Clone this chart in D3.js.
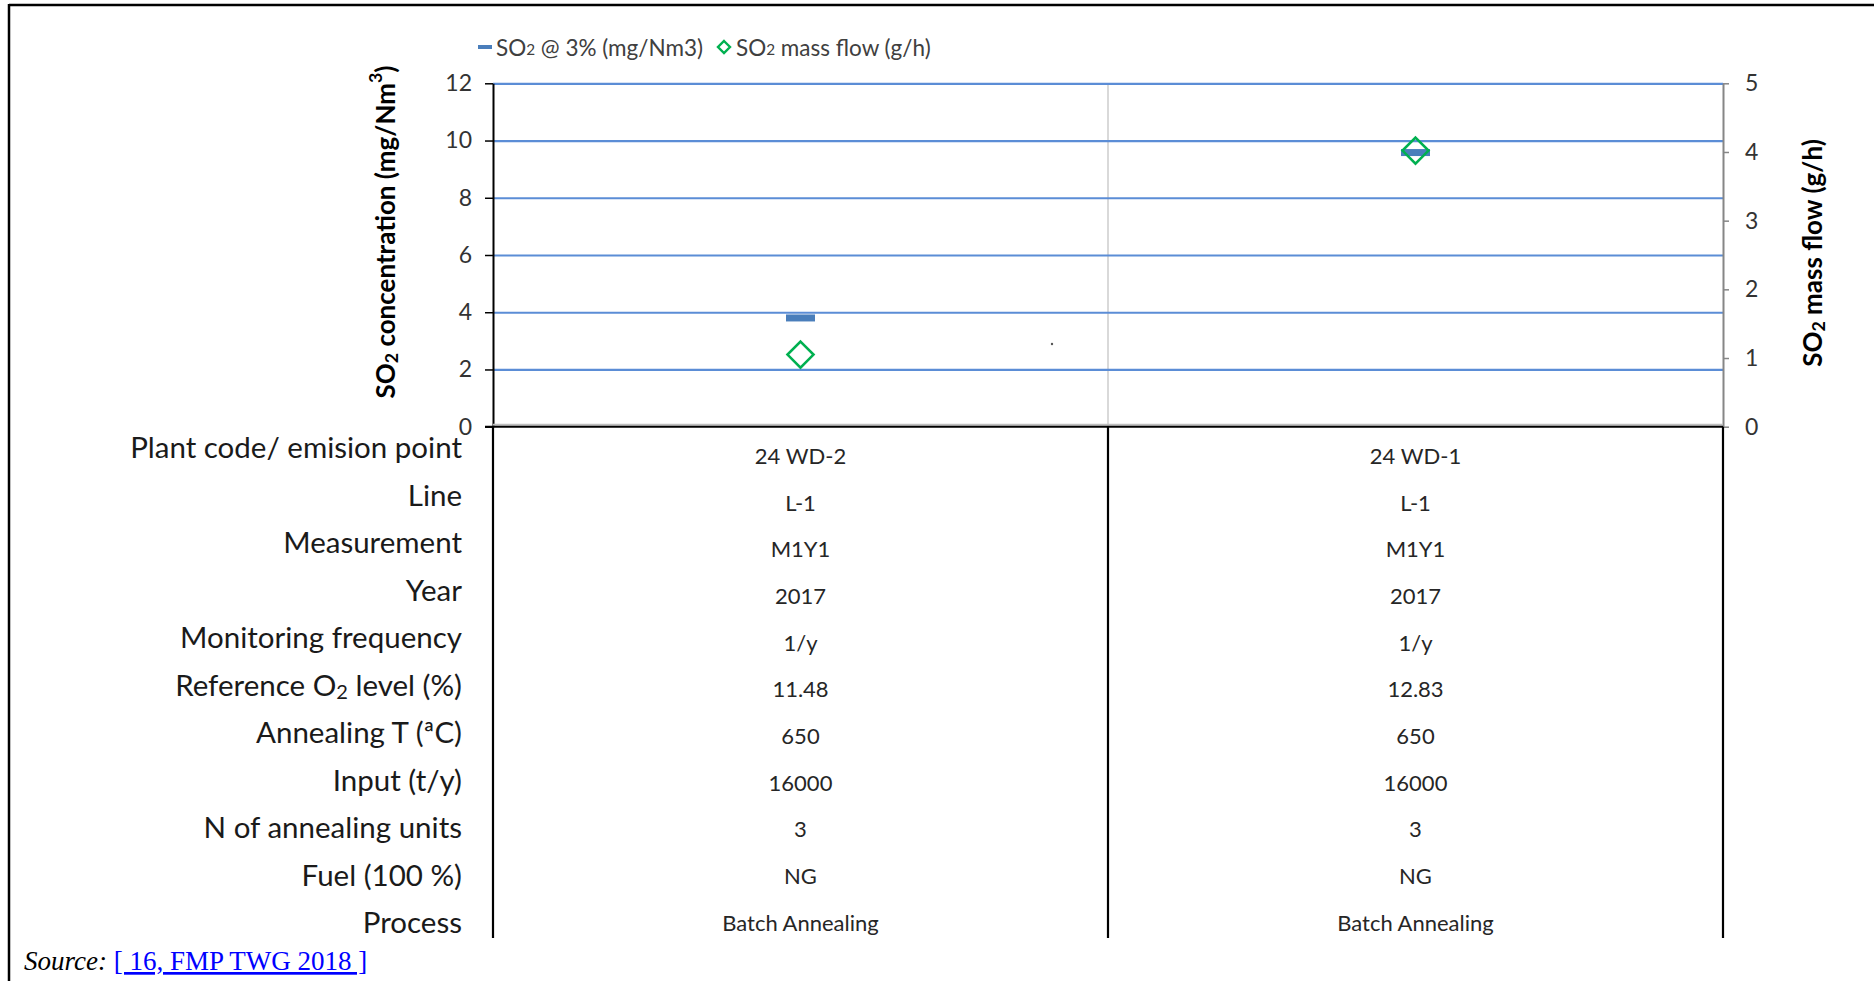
<!DOCTYPE html>
<html>
<head>
<meta charset="utf-8">
<script src="https://cdn.jsdelivr.net/npm/d3@7"></script>
<style>
  html, body { margin: 0; padding: 0; background: #fff; }
  svg { display: block; }
  text { font-family: Lato, "Open Sans", sans-serif; }
</style>
</head>
<body>
<svg id="chart" width="1874" height="981"></svg>
<script>
// ---------- DATA ----------
const categories = ["24 WD-2", "24 WD-1"];
const so2Concentration = [3.8, 9.58];   // mg/Nm3 (left axis)
const so2MassFlow = [1.05, 4.02];       // g/h (right axis)
const leftTicks = [0, 2, 4, 6, 8, 10, 12];
const rightTicks = [0, 1, 2, 3, 4, 5];
const rowLabels = [
  "Plant code/ emision point", "Line", "Measurement", "Year",
  "Monitoring frequency", "Reference O|2| level (%)", "Annealing T (ªC)",
  "Input (t/y)", "N of annealing units", "Fuel (100 %)", "Process"
];
const column1Values = ["24 WD-2", "L-1", "M1Y1", "2017", "1/y", "11.48", "650", "16000", "3", "NG", "Batch Annealing"];
const column2Values = ["24 WD-1", "L-1", "M1Y1", "2017", "1/y", "12.83", "650", "16000", "3", "NG", "Batch Annealing"];
const tableValues = [column1Values, column2Values];

// ---------- LAYOUT ----------
const svg = d3.select("#chart");
const plot = { left: 493, right: 1723, top: 83.3, bottom: 426.7 };
const tableBottom = 938;
const gridColor = "#5b8dd6";

const x = d3.scaleBand().domain(categories).range([plot.left, plot.right]).padding(0);
const yL = d3.scaleLinear().domain([0, 12]).range([plot.bottom, plot.top]);
const yR = d3.scaleLinear().domain([0, 5]).range([plot.bottom, plot.top]);
const rowLabelY = d3.scaleLinear().domain([0, rowLabels.length - 1]).range([446, 921]);
const rowValueY = d3.scaleLinear().domain([0, rowLabels.length - 1]).range([455.5, 922]);

// frame
svg.append("line").attr("x1", 9).attr("x2", 1874).attr("y1", 5).attr("y2", 5)
  .attr("stroke", "#000").attr("stroke-width", 2.5);
svg.append("line").attr("x1", 9).attr("x2", 9).attr("y1", 4).attr("y2", 981)
  .attr("stroke", "#000").attr("stroke-width", 2.5);

// middle separator (light gray) in plot area
svg.append("line")
  .attr("x1", x(categories[1])).attr("x2", x(categories[1]))
  .attr("y1", plot.top).attr("y2", plot.bottom)
  .attr("stroke", "#d9d9d9").attr("stroke-width", 2);

// gridlines
const grid = svg.append("g").attr("transform", `translate(${plot.left},0)`)
  .call(d3.axisLeft(yL).tickValues(leftTicks.filter(d => d > 0)).tickSize(-(plot.right - plot.left)).tickFormat(""));
grid.select(".domain").remove();
grid.selectAll(".tick line").attr("stroke", gridColor).attr("stroke-width", 2.2);

// left axis
const axL = svg.append("g").attr("transform", `translate(${plot.left},0)`)
  .call(d3.axisLeft(yL).tickValues(leftTicks).tickFormat(d3.format("d")).tickSize(8).tickSizeOuter(0).tickPadding(13));
axL.select(".domain").attr("stroke", "#000").attr("stroke-width", 2);
axL.selectAll(".tick line").attr("stroke", "#000").attr("stroke-width", 1.5);
axL.selectAll(".tick text").attr("font-size", 23).attr("fill", "#333")
  .attr("font-family", "Lato, sans-serif");

// right axis
const axR = svg.append("g").attr("transform", `translate(${plot.right},0)`)
  .call(d3.axisRight(yR).tickValues(rightTicks).tickFormat(d3.format("d")).tickSize(6).tickSizeOuter(0).tickPadding(16));
axR.select(".domain").attr("stroke", "#868686").attr("stroke-width", 2);
axR.selectAll(".tick line").attr("stroke", "#868686").attr("stroke-width", 1.5);
axR.selectAll(".tick text").attr("font-size", 23).attr("fill", "#333")
  .attr("font-family", "Lato, sans-serif");

// bottom axis line (zero line)
svg.append("line").attr("x1", plot.left).attr("x2", plot.right)
  .attr("y1", plot.bottom - 2).attr("y2", plot.bottom - 2)
  .attr("stroke", "#bfbfbf").attr("stroke-width", 2);
svg.append("line").attr("x1", plot.left - 8).attr("x2", plot.right)
  .attr("y1", plot.bottom).attr("y2", plot.bottom)
  .attr("stroke", "#000").attr("stroke-width", 2);

// table vertical lines
const tableXs = [plot.left, x(categories[1]), plot.right];
svg.selectAll(".tline").data(tableXs).enter().append("line")
  .attr("x1", d => d).attr("x2", d => d)
  .attr("y1", plot.bottom).attr("y2", tableBottom)
  .attr("stroke", "#000").attr("stroke-width", 2.2);

// text with sub/superscripts: |x| => subscript, ^x^ => superscript
function richText(sel, str, subShift, supShift) {
  const parts = str.split(/(\|[^|]*\||\^[^^]*\^)/).filter(s => s.length);
  let pending = 0;
  parts.forEach(p => {
    if (p.startsWith("|")) {
      sel.append("tspan").text(p.slice(1, -1)).attr("font-size", "0.68em").attr("dy", pending + subShift);
      pending = -subShift;
    } else if (p.startsWith("^")) {
      sel.append("tspan").text(p.slice(1, -1)).attr("font-size", "0.68em").attr("dy", pending - supShift);
      pending = supShift;
    } else {
      const t = sel.append("tspan").text(p);
      if (pending) t.attr("dy", pending);
      pending = 0;
    }
  });
}

// axis titles
const tL = svg.append("text")
  .attr("transform", `translate(385,232) rotate(-90)`)
  .attr("text-anchor", "middle").attr("dominant-baseline", "central")
  .attr("font-size", 26).attr("font-weight", "bold").attr("fill", "#000");
richText(tL, "SO|2| concentration (mg/Nm^3^)", 6, 10);

const tR = svg.append("text")
  .attr("transform", `translate(1812,253) rotate(-90)`)
  .attr("text-anchor", "middle").attr("dominant-baseline", "central")
  .attr("font-size", 26).attr("font-weight", "bold").attr("fill", "#000");
richText(tR, "SO|2| mass flow (g/h)", 6, 10);

// series: SO2 concentration (blue dash markers)
svg.selectAll(".dash").data(categories).enter().append("rect")
  .attr("x", d => x(d) + x.bandwidth() / 2 - 14.5)
  .attr("y", (d, i) => yL(so2Concentration[i]) - 3.5)
  .attr("width", 29).attr("height", 7)
  .attr("fill", "#4a7ebb");

// series: SO2 mass flow (green diamonds)
const dSize = 13;
svg.selectAll(".diamond").data(categories).enter().append("path")
  .attr("d", `M0,${-dSize} L${dSize},0 L0,${dSize} L${-dSize},0 Z`)
  .attr("transform", (d, i) => `translate(${x(d) + x.bandwidth() / 2},${yR(so2MassFlow[i])})`)
  .attr("fill", "none").attr("stroke", "#00b050").attr("stroke-width", 2.6);

// stray dot present in the original
svg.append("circle").attr("cx", 1052).attr("cy", 344).attr("r", 1.2).attr("fill", "#555");

// legend
const legY = 47;
svg.append("rect").attr("x", 478).attr("y", legY - 2).attr("width", 14).attr("height", 4).attr("fill", "#4a7ebb");
const lt1 = svg.append("text").attr("x", 496).attr("y", legY).attr("dominant-baseline", "central")
  .attr("font-size", 22.5).attr("fill", "#404040");
richText(lt1, "SO|2|  @ 3% (mg/Nm3)", 2, 6);
svg.append("path").attr("d", "M0,-6 L6,0 L0,6 L-6,0 Z")
  .attr("transform", `translate(724,${legY})`)
  .attr("fill", "none").attr("stroke", "#00b050").attr("stroke-width", 2.4);
const lt2 = svg.append("text").attr("x", 736).attr("y", legY).attr("dominant-baseline", "central")
  .attr("font-size", 22.5).attr("fill", "#404040");
richText(lt2, "SO|2|  mass flow (g/h)", 2, 6);

// table row labels
rowLabels.forEach((lab, i) => {
  const t = svg.append("text").attr("x", 462).attr("y", rowLabelY(i))
    .attr("text-anchor", "end").attr("dominant-baseline", "central")
    .attr("font-size", 29.5).attr("fill", "#1a1a1a");
  richText(t, lab, 7, 9);
});

// table values
tableValues.forEach((col, c) => {
  col.forEach((v, i) => {
    svg.append("text").attr("x", x(categories[c]) + x.bandwidth() / 2).attr("y", rowValueY(i))
      .attr("text-anchor", "middle").attr("dominant-baseline", "central")
      .attr("font-size", 22).attr("fill", "#262626").text(v);
  });
});

// source
const src = svg.append("text").attr("x", 24).attr("y", 970)
  .attr("font-family", "'Liberation Serif', 'Times New Roman', serif").attr("font-size", 27);
src.append("tspan").attr("font-style", "italic").attr("fill", "#000")
  .attr("font-family", "'Liberation Serif', serif").text("Source: ");
src.append("tspan").attr("fill", "#0000ff").attr("text-decoration", "underline")
  .attr("font-family", "'Liberation Serif', serif").text("[ 16, FMP TWG 2018 ]");
</script>
</body>
</html>
